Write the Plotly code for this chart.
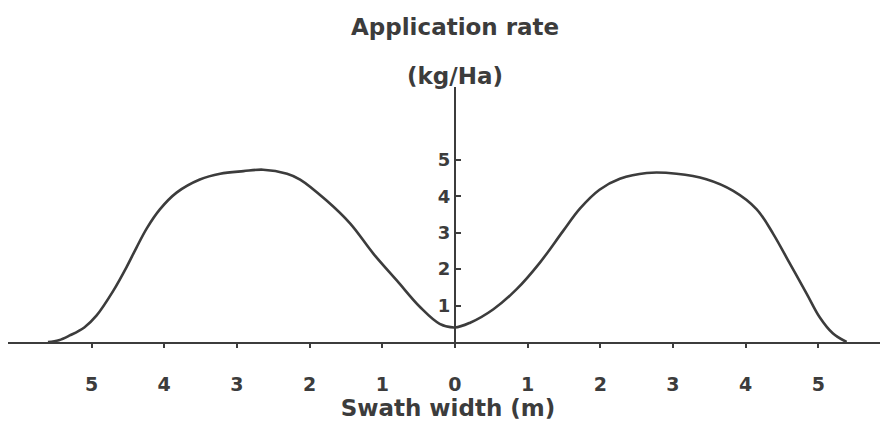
import plotly.graph_objects as go

# Data
swath_x = [-5.6, -5.45, -5.30, -5.10, -4.93, -4.70, -4.52, -4.38, -4.24, -4.06, -3.83, -3.51,
           -3.23, -2.91, -2.64, -2.31, -2.13, -1.77, -1.44, -1.12, -0.80, -0.48, -0.21, 0.0,
           0.21, 0.53, 0.85, 1.17, 1.49, 1.72, 1.99, 2.27, 2.64, 3.05, 3.46, 3.83, 4.15,
           4.38, 4.61, 4.84, 5.02, 5.20, 5.39]
rate_y = [0.0, 0.05, 0.18, 0.40, 0.73, 1.41, 2.05, 2.60, 3.12, 3.64, 4.10, 4.46,
          4.62, 4.69, 4.73, 4.62, 4.46, 3.89, 3.25, 2.42, 1.69, 0.96, 0.50, 0.40,
          0.53, 0.90, 1.45, 2.18, 3.05, 3.66, 4.18, 4.48, 4.64, 4.62, 4.47, 4.15, 3.65,
          2.97, 2.15, 1.33, 0.68, 0.24, 0.0]

x_tickvals = [-5, -4, -3, -2, -1, 0, 1, 2, 3, 4, 5]
x_ticktext = ["5", "4", "3", "2", "1", "0", "1", "2", "3", "4", "5"]
y_tickvals = [1, 2, 3, 4, 5]
y_ticktext = ["1", "2", "3", "4", "5"]

XMIN, XMAX = -6.15, 5.96
YMIN, YMAX = 0, 7

INK = "#3c3c3c"
FONT = "DejaVu Sans"

fig = go.Figure()
fig.add_trace(go.Scatter(x=swath_x, y=rate_y, mode="lines",
                         line=dict(color=INK, width=2.6, shape="spline", smoothing=1.0),
                         hoverinfo="skip", showlegend=False))

# The page body has an 8px default margin, so the figure is 8px smaller.
fig.update_layout(
    width=880, height=419,
    margin=dict(l=0, r=0, t=79, b=85, autoexpand=False),
    paper_bgcolor="white", plot_bgcolor="white",
    showlegend=False,
    xaxis=dict(range=[XMIN, XMAX], showgrid=False, zeroline=False, automargin=False,
               showline=True, linecolor=INK, linewidth=2,
               ticks="outside", ticklen=4, tickwidth=1.5, tickcolor=INK,
               tickvals=x_tickvals, ticktext=x_ticktext,
               ticklabelstandoff=20,
               tickfont=dict(family=FONT, size=19, color=INK, weight="bold"),
               title=dict(text="Swath width (m)", standoff=2,
                          font=dict(family=FONT, size=23, color=INK, weight="bold"))),
    yaxis=dict(range=[YMIN, YMAX], showgrid=False, zeroline=False, automargin=False,
               showline=True, linecolor=INK, linewidth=2,
               anchor="free", position=(0 - XMIN) / (XMAX - XMIN),
               ticks="inside", ticklen=5, tickwidth=1.5, tickcolor=INK,
               tickvals=y_tickvals, ticktext=y_ticktext,
               tickfont=dict(family=FONT, size=18, color=INK, weight="bold")),
    annotations=[
        dict(text="Application rate", xref="x", yref="paper", x=0, y=1.0,
             yshift=60, showarrow=False, xanchor="center", yanchor="middle",
             font=dict(family=FONT, size=23, color=INK, weight="bold")),
        dict(text="(kg/Ha)", xref="x", yref="paper", x=0, y=1.0,
             yshift=11, showarrow=False, xanchor="center", yanchor="middle",
             font=dict(family=FONT, size=23, color=INK, weight="bold")),
    ],
)

fig.write_html("out.html")
